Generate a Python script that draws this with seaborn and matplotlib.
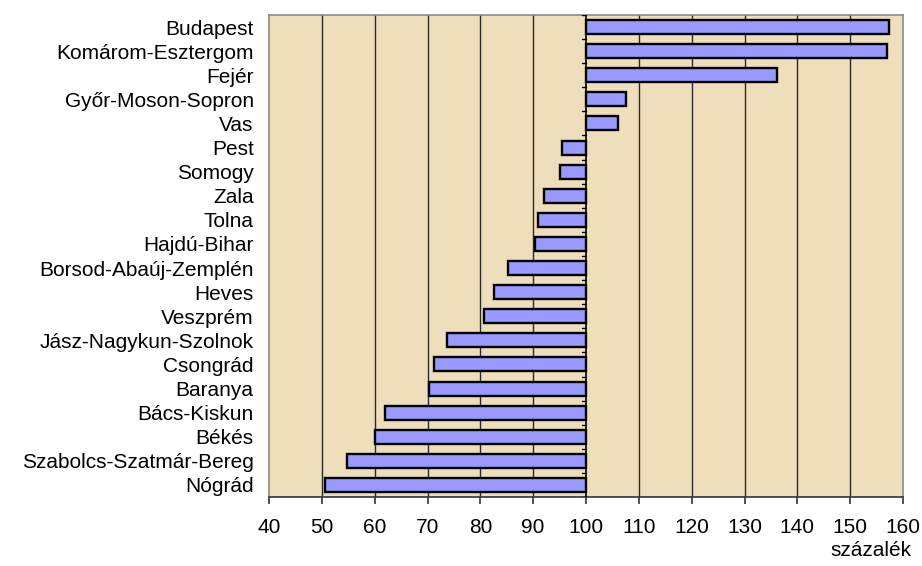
import matplotlib
matplotlib.use("Agg")
import matplotlib.pyplot as plt
import seaborn as sns
import numpy as np
import pandas as pd

# counties, top to bottom
megyek = ['Budapest', 'Komárom-Esztergom', 'Fejér', 'Győr-Moson-Sopron', 'Vas',
          'Pest', 'Somogy', 'Zala', 'Tolna', 'Hajdú-Bihar',
          'Borsod-Abaúj-Zemplén', 'Heves', 'Veszprém', 'Jász-Nagykun-Szolnok',
          'Csongrád', 'Baranya', 'Bács-Kiskun', 'Békés',
          'Szabolcs-Szatmár-Bereg', 'Nógrád']
szazalek = [157.3, 156.9, 136.1, 107.6, 106.1,
            95.4, 95.0, 92.0, 90.9, 90.4,
            85.2, 82.5, 80.6, 73.7,
            71.2, 70.3, 62.0, 60.0,
            54.7, 50.6]
alap = 100
x_ticks = list(range(40, 161, 10))

df = pd.DataFrame({'megye': megyek, 'szazalek': szazalek})
df['elteres'] = df['szazalek'] - alap

sns.set_style('white')
plt.rcParams['font.family'] = ['Liberation Sans', 'DejaVu Sans']

fig = plt.figure(figsize=(9.22, 5.66), dpi=100)
ax = fig.add_axes([269 / 922, 1 - 497 / 566, (903 - 269) / 922, (497 - 15) / 566])
ax.set_facecolor('#EEDEBC')

# bars start from the 100% line
sns.barplot(data=df, x='elteres', y='megye', orient='h', ax=ax,
            color='#9999FF', width=0.58, left=alap,
            edgecolor='black', linewidth=1.7, saturation=1, zorder=3)

ax.set_xlim(x_ticks[0], x_ticks[-1])
ax.set_ylim(len(megyek) - 0.5, -0.5)
ax.set_xticks(x_ticks)
ax.set_xticklabels([str(t) for t in x_ticks])

# vertical gridlines
for t in x_ticks[1:-1]:
    if t != alap:
        ax.axvline(t, color='#2b2b2b', lw=1.0, zorder=1)
ax.axvline(alap, color='black', lw=1.2, zorder=4)
# category ticks on the 100 line
for b in np.arange(-0.5, len(megyek) + 0.5, 1):
    ax.plot([alap - 0.75, alap], [b, b], color='black', lw=1.0, zorder=4)

for side in ['left', 'top', 'right']:
    ax.spines[side].set_color('#8a8a8a')
    ax.spines[side].set_linewidth(1.2)
ax.spines['bottom'].set_color('#333333')
ax.spines['bottom'].set_linewidth(1.2)

ax.tick_params(axis='y', length=0, pad=11, labelsize=15, labelcolor='black')
ax.tick_params(axis='x', direction='out', length=5, width=1.2, color='#333333',
               pad=10, labelsize=15, labelcolor='black', bottom=True)
ax.set_xlabel('')
ax.set_ylabel('')

fig.text(912 / 922, 1 - 551 / 566, 'százalék', ha='right', va='center',
         fontsize=15, color='black')

fig.savefig('out.png', dpi=100)
